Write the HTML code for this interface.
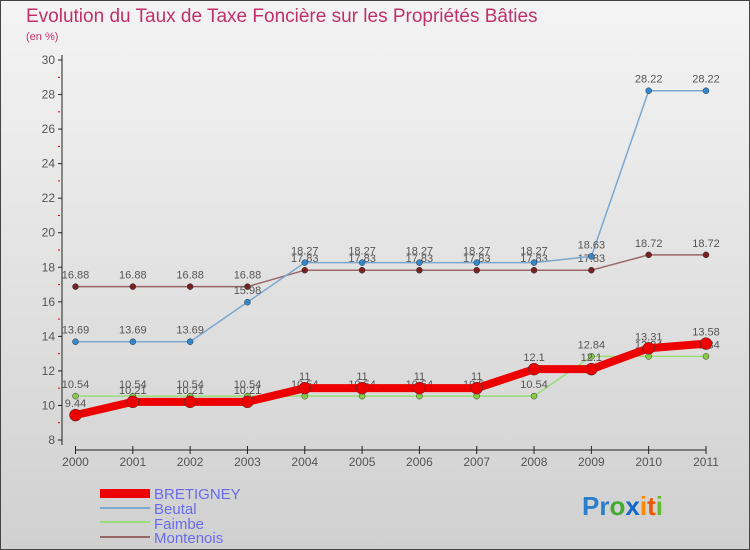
<!DOCTYPE html>
<html><head><meta charset="utf-8"><style>
body{margin:0}
svg{display:block;font-family:"Liberation Sans",sans-serif}
</style></head><body>
<svg id="c" width="750" height="550" viewBox="0 0 750 550">
<defs><linearGradient id="bg" x1="0" y1="0" x2="0" y2="1"><stop offset="0" stop-color="#f4f4f4"/><stop offset="1" stop-color="#d0d0d0"/></linearGradient></defs>
<rect x="0.5" y="0.5" width="749" height="549" fill="url(#bg)" stroke="#444"/>
<text x="26" y="22" font-size="19" fill="#c0306a">Evolution du Taux de Taxe Foncière sur les Propriétés Bâties</text>
<text x="26" y="40" font-size="11" fill="#c0306a">(en %)</text>
<g id="axes"></g><g id="series"></g>
<g>
<rect x="100" y="489" width="50" height="9" fill="#e00"/>
<text x="154" y="499" font-size="15" fill="#6a6aee">BRETIGNEY</text>
<line x1="100" y1="508" x2="150" y2="508" stroke="#7aa8d0" stroke-width="2"/>
<text x="154" y="514" font-size="15" fill="#6a6aee">Beutal</text>
<line x1="100" y1="522" x2="150" y2="522" stroke="#99dd77" stroke-width="2"/>
<text x="154" y="529" font-size="15" fill="#6a6aee">Faimbe</text>
<line x1="100" y1="537" x2="150" y2="537" stroke="#996666" stroke-width="2"/>
<text x="154" y="543" font-size="15" fill="#6a6aee">Montenois</text>
</g>
<text x="582" y="515" font-size="26" font-weight="bold"><tspan fill="#2a7fcc">Pr</tspan><tspan fill="#44aa33">o</tspan><tspan fill="#1166cc">x</tspan><tspan fill="#ff8800">i</tspan><tspan fill="#ee5500">t</tspan><tspan fill="#66bb33">i</tspan></text>
</svg>
<script>
const years=[2000,2001,2002,2003,2004,2005,2006,2007,2008,2009,2010,2011];
const yTicks=[8,10,12,14,16,18,20,22,24,26,28,30];
const bretigney=[9.44,10.21,10.21,10.21,11,11,11,11,12.1,12.1,13.31,13.58];
const beutal=[13.69,13.69,13.69,15.98,18.27,18.27,18.27,18.27,18.27,18.63,28.22,28.22];
const faimbe=[10.54,10.54,10.54,10.54,10.54,10.54,10.54,10.54,10.54,12.84,12.84,12.84];
const montenois=[16.88,16.88,16.88,16.88,17.83,17.83,17.83,17.83,17.83,17.83,18.72,18.72];
const NS="http://www.w3.org/2000/svg";
const X=i=>75.5+i*(706-75.5)/11;
const Y=v=>440-(v-8)*(380/22);
function mk(t,a,p){const e=document.createElementNS(NS,t);for(const k in a)e.setAttribute(k,a[k]);p.appendChild(e);return e;}
const ax=document.getElementById('axes');
let yl=mk('line',{x1:62,y1:55,x2:62,y2:445,stroke:'#222'},ax);


yTicks.forEach(v=>{
  const tk=mk('line',{x1:58,y1:Y(v),x2:62,y2:Y(v),stroke:'#222'},ax);
  
  
  if(v<30){const m=mk('line',{x1:58,y1:Y(v+1),x2:60,y2:Y(v+1),stroke:'#d00'},ax);
  
  }
  const t=mk('text',{x:55,y:Y(v)+4,'font-size':12,fill:'#555','text-anchor':'end'},ax);t.textContent=v;
  
  
});
let xl=mk('line',{x1:75.5,y1:450,x2:706,y2:450,stroke:'#222'},ax);


years.forEach((y,i)=>{
  const tk=mk('line',{x1:X(i),y1:446,x2:X(i),y2:454,stroke:'#222'},ax);
  
  
  const t=mk('text',{x:X(i),y:466,'font-size':12,fill:'#555','text-anchor':'middle'},ax);t.textContent=y;
  
  
});
const sg=document.getElementById('series');
function draw(name,data,color,w,r,dot){
  const g=mk('g',{},sg);
  
  
  const l=mk('polyline',{points:data.map((v,i)=>X(i)+','+Y(v)).join(' '),fill:'none',stroke:color,'stroke-width':w,'stroke-linejoin':'round'},g);
  
  
  data.forEach((v,i)=>{
    const c=mk('circle',{cx:X(i),cy:Y(v),r:r,fill:dot,stroke:'#333','stroke-width':0.5},g);
    
    
    const t=mk('text',{x:X(i),y:Y(v)-8,'font-size':11,fill:'#555','text-anchor':'middle'},g);
    t.textContent=v;
    
    
  });
}
draw('montenois',montenois,'#996666',1.5,3,'#772222');
draw('beutal',beutal,'#7aa8d0',1.5,3,'#3388cc');
draw('faimbe',faimbe,'#99dd77',1.5,3,'#88cc44');
draw('bretigney',bretigney,'#e00',8,6,'#e00');
</script>
</body></html>
